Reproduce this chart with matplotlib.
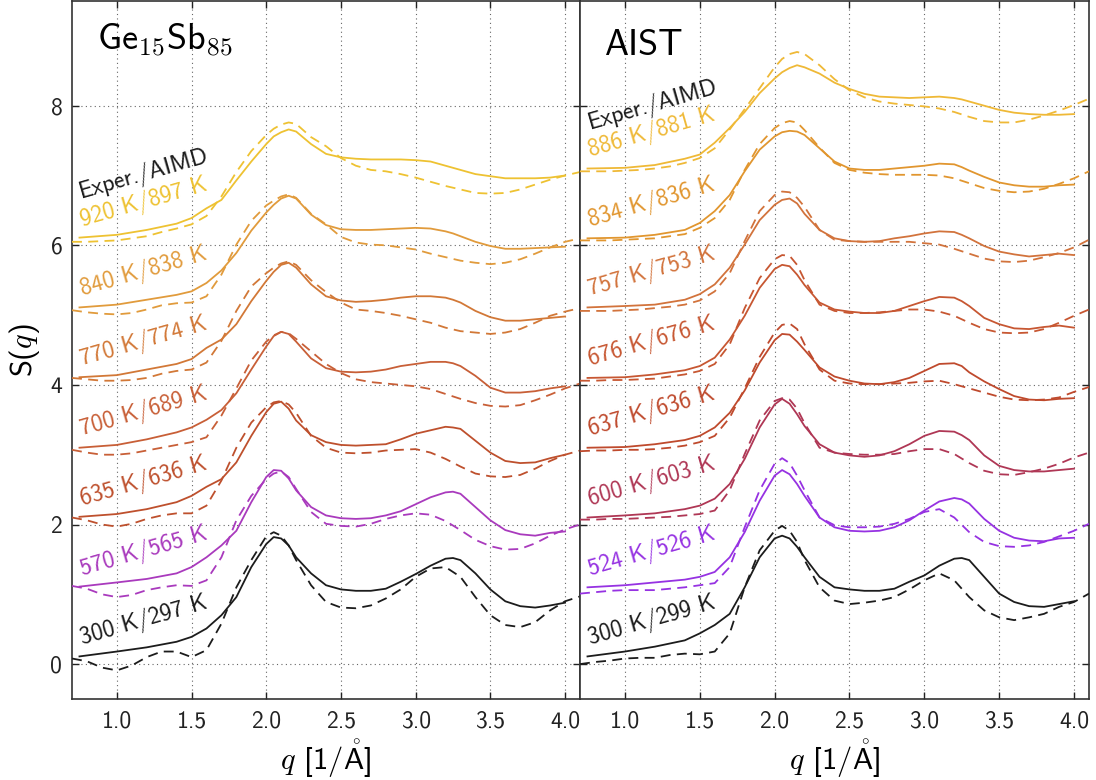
import matplotlib
matplotlib.use("Agg")
import matplotlib.pyplot as plt
from matplotlib.ticker import FormatStrFormatter

plt.rcParams["font.family"] = ["cmss10", "DejaVu Sans"]
plt.rcParams["mathtext.fontset"] = "cm"
plt.rcParams["axes.unicode_minus"] = False
plt.rcParams["axes.formatter.use_mathtext"] = False

# ---- momentum transfer grids [1/Angstrom] ----
q_exp = [0.75, 1.0, 1.2, 1.4, 1.5, 1.6, 1.7, 1.8, 1.9, 2.0, 2.05, 2.1, 2.15, 2.2,
         2.3, 2.4, 2.5, 2.6, 2.7, 2.8, 2.9, 3.0, 3.1, 3.2, 3.25, 3.3, 3.4, 3.5,
         3.6, 3.7, 3.8, 3.9, 4.0]
q_aimd = [0.7, 0.8, 0.9, 1.0, 1.1, 1.2, 1.3, 1.4, 1.5, 1.6, 1.7, 1.8, 1.9, 2.0,
          2.05, 2.1, 2.15, 2.2, 2.3, 2.4, 2.5, 2.6, 2.7, 2.8, 2.9, 3.0, 3.1, 3.2,
          3.3, 3.4, 3.5, 3.6, 3.7, 3.8, 3.9, 4.0, 4.1]

# ---- Ge15Sb85: experimental S(q) ----
gesb_exp_300 = [0.11, 0.18, 0.24, 0.32, 0.39, 0.51, 0.70, 0.96, 1.39, 1.72, 1.82, 1.80, 1.70, 1.53, 1.30, 1.13, 1.07, 1.05, 1.05, 1.08, 1.18, 1.29, 1.41, 1.51, 1.52, 1.49, 1.30, 1.07, 0.90, 0.83, 0.81, 0.84, 0.88]
gesb_exp_570 = [0.11, 0.17, 0.22, 0.30, 0.39, 0.53, 0.70, 0.91, 1.32, 1.68, 1.78, 1.77, 1.66, 1.49, 1.25, 1.13, 1.09, 1.08, 1.09, 1.13, 1.19, 1.29, 1.39, 1.46, 1.47, 1.44, 1.25, 1.06, 0.92, 0.86, 0.84, 0.88, 0.90]
gesb_exp_635 = [0.11, 0.15, 0.22, 0.32, 0.41, 0.54, 0.65, 0.89, 1.27, 1.61, 1.73, 1.76, 1.66, 1.49, 1.28, 1.18, 1.14, 1.13, 1.14, 1.15, 1.22, 1.30, 1.35, 1.40, 1.39, 1.37, 1.20, 1.03, 0.91, 0.88, 0.89, 0.95, 1.00]
gesb_exp_700 = [0.10, 0.14, 0.22, 0.32, 0.39, 0.50, 0.64, 0.88, 1.22, 1.55, 1.70, 1.76, 1.73, 1.62, 1.38, 1.24, 1.19, 1.18, 1.19, 1.22, 1.27, 1.30, 1.33, 1.33, 1.31, 1.27, 1.13, 0.96, 0.89, 0.89, 0.91, 0.95, 0.98]
gesb_exp_770 = [0.11, 0.14, 0.22, 0.30, 0.37, 0.53, 0.65, 0.87, 1.20, 1.49, 1.62, 1.72, 1.75, 1.68, 1.44, 1.27, 1.21, 1.19, 1.20, 1.22, 1.25, 1.27, 1.27, 1.25, 1.22, 1.18, 1.06, 0.97, 0.92, 0.92, 0.94, 0.96, 0.98]
gesb_exp_840 = [0.11, 0.15, 0.22, 0.29, 0.34, 0.46, 0.64, 0.89, 1.21, 1.47, 1.58, 1.67, 1.71, 1.67, 1.44, 1.29, 1.23, 1.22, 1.22, 1.23, 1.24, 1.25, 1.24, 1.20, 1.17, 1.13, 1.05, 0.99, 0.95, 0.95, 0.96, 0.97, 0.98]
gesb_exp_920 = [0.11, 0.15, 0.22, 0.31, 0.39, 0.53, 0.65, 0.93, 1.20, 1.45, 1.56, 1.62, 1.66, 1.63, 1.45, 1.31, 1.26, 1.24, 1.23, 1.23, 1.23, 1.22, 1.20, 1.14, 1.11, 1.08, 1.02, 0.99, 0.96, 0.96, 0.96, 0.97, 1.00]

# ---- Ge15Sb85: AIMD S(q) ----
gesb_aimd_297 = [0.08, 0.04, -0.05, -0.09, -0.02, 0.10, 0.18, 0.18, 0.10, 0.20, 0.58, 1.10, 1.49, 1.83, 1.89, 1.84, 1.70, 1.49, 1.13, 0.89, 0.81, 0.80, 0.84, 0.94, 1.07, 1.25, 1.37, 1.39, 1.25, 0.96, 0.70, 0.56, 0.53, 0.60, 0.77, 0.90, 0.97]
gesb_aimd_565 = [0.12, 0.08, 0.00, -0.04, -0.01, 0.06, 0.10, 0.13, 0.12, 0.20, 0.53, 1.06, 1.41, 1.65, 1.73, 1.76, 1.68, 1.51, 1.18, 1.01, 0.98, 0.97, 1.01, 1.08, 1.13, 1.16, 1.14, 1.05, 0.92, 0.78, 0.69, 0.64, 0.65, 0.73, 0.84, 0.93, 1.00]
gesb_aimd_636 = [0.10, 0.06, 0.00, -0.03, 0.01, 0.08, 0.13, 0.16, 0.16, 0.27, 0.63, 1.10, 1.46, 1.68, 1.75, 1.77, 1.72, 1.60, 1.27, 1.10, 1.03, 1.02, 1.03, 1.06, 1.07, 1.08, 1.03, 0.94, 0.83, 0.73, 0.69, 0.68, 0.71, 0.80, 0.91, 1.00, 1.06]
gesb_aimd_689 = [0.07, 0.03, 0.00, 0.00, 0.02, 0.06, 0.10, 0.14, 0.18, 0.25, 0.56, 0.95, 1.35, 1.62, 1.71, 1.76, 1.74, 1.66, 1.48, 1.30, 1.17, 1.08, 1.04, 1.02, 1.00, 0.98, 0.94, 0.87, 0.80, 0.74, 0.70, 0.69, 0.71, 0.78, 0.86, 0.95, 1.02]
gesb_aimd_774 = [0.10, 0.08, 0.06, 0.06, 0.07, 0.10, 0.16, 0.20, 0.22, 0.32, 0.63, 1.06, 1.41, 1.60, 1.68, 1.74, 1.77, 1.72, 1.50, 1.33, 1.18, 1.08, 1.06, 1.03, 0.99, 0.94, 0.89, 0.82, 0.77, 0.75, 0.73, 0.75, 0.80, 0.89, 0.99, 1.05, 1.10]
gesb_aimd_838 = [0.07, 0.04, 0.02, 0.01, 0.03, 0.08, 0.14, 0.17, 0.18, 0.27, 0.58, 1.01, 1.35, 1.57, 1.64, 1.70, 1.73, 1.68, 1.45, 1.30, 1.12, 1.04, 1.01, 1.00, 0.97, 0.94, 0.88, 0.83, 0.78, 0.75, 0.73, 0.75, 0.80, 0.88, 0.97, 1.05, 1.10]
gesb_aimd_897 = [0.05, 0.05, 0.06, 0.07, 0.10, 0.13, 0.19, 0.24, 0.30, 0.42, 0.70, 1.05, 1.35, 1.58, 1.67, 1.73, 1.76, 1.74, 1.55, 1.42, 1.25, 1.14, 1.08, 1.06, 1.02, 0.97, 0.91, 0.85, 0.80, 0.75, 0.74, 0.75, 0.80, 0.87, 0.94, 1.00, 1.05]

# ---- AIST: experimental S(q) ----
aist_exp_300 = [0.11, 0.18, 0.25, 0.34, 0.44, 0.56, 0.72, 1.10, 1.53, 1.80, 1.84, 1.80, 1.68, 1.53, 1.25, 1.10, 1.07, 1.05, 1.05, 1.08, 1.18, 1.27, 1.41, 1.51, 1.52, 1.49, 1.25, 1.01, 0.89, 0.83, 0.82, 0.86, 0.90]
aist_exp_524 = [0.10, 0.13, 0.17, 0.21, 0.25, 0.32, 0.53, 0.89, 1.34, 1.70, 1.78, 1.72, 1.58, 1.41, 1.10, 0.96, 0.91, 0.90, 0.91, 0.96, 1.06, 1.20, 1.33, 1.38, 1.36, 1.30, 1.08, 0.91, 0.81, 0.77, 0.76, 0.80, 0.81]
aist_exp_600 = [0.10, 0.13, 0.16, 0.22, 0.27, 0.37, 0.58, 0.94, 1.39, 1.72, 1.80, 1.73, 1.58, 1.41, 1.15, 1.03, 0.99, 0.97, 0.99, 1.05, 1.15, 1.27, 1.34, 1.33, 1.28, 1.21, 0.99, 0.84, 0.78, 0.76, 0.76, 0.78, 0.80]
aist_exp_637 = [0.10, 0.11, 0.15, 0.21, 0.27, 0.39, 0.60, 0.92, 1.32, 1.64, 1.73, 1.72, 1.62, 1.50, 1.25, 1.12, 1.06, 1.02, 1.01, 1.04, 1.10, 1.20, 1.30, 1.31, 1.27, 1.18, 1.05, 0.94, 0.84, 0.79, 0.78, 0.80, 0.81]
aist_exp_676 = [0.10, 0.11, 0.15, 0.21, 0.27, 0.39, 0.65, 0.99, 1.39, 1.66, 1.72, 1.70, 1.58, 1.43, 1.18, 1.08, 1.05, 1.03, 1.03, 1.06, 1.13, 1.20, 1.26, 1.25, 1.20, 1.13, 0.96, 0.87, 0.81, 0.80, 0.83, 0.85, 0.82]
aist_exp_757 = [0.11, 0.13, 0.15, 0.22, 0.30, 0.44, 0.68, 1.01, 1.36, 1.58, 1.65, 1.67, 1.60, 1.45, 1.22, 1.10, 1.06, 1.05, 1.06, 1.10, 1.13, 1.17, 1.20, 1.19, 1.15, 1.10, 0.99, 0.91, 0.87, 0.84, 0.86, 0.88, 0.86]
aist_exp_834 = [0.10, 0.11, 0.15, 0.22, 0.32, 0.49, 0.72, 1.06, 1.37, 1.56, 1.62, 1.64, 1.63, 1.58, 1.39, 1.20, 1.10, 1.08, 1.08, 1.10, 1.12, 1.14, 1.17, 1.16, 1.12, 1.07, 0.98, 0.90, 0.86, 0.84, 0.84, 0.86, 0.87]
aist_exp_886 = [0.10, 0.11, 0.15, 0.24, 0.30, 0.47, 0.68, 0.91, 1.18, 1.39, 1.48, 1.54, 1.58, 1.55, 1.46, 1.33, 1.24, 1.17, 1.13, 1.12, 1.11, 1.12, 1.13, 1.11, 1.09, 1.06, 1.00, 0.94, 0.90, 0.88, 0.87, 0.87, 0.88]

# ---- AIST: AIMD S(q) ----
aist_aimd_299 = [0.00, 0.03, 0.05, 0.08, 0.09, 0.09, 0.13, 0.15, 0.14, 0.18, 0.44, 1.10, 1.63, 1.91, 1.98, 1.91, 1.75, 1.49, 1.10, 0.91, 0.86, 0.88, 0.91, 0.96, 1.07, 1.20, 1.30, 1.20, 0.96, 0.77, 0.67, 0.63, 0.67, 0.72, 0.82, 0.89, 1.01]
aist_aimd_526 = [0.01, 0.03, 0.05, 0.06, 0.06, 0.06, 0.08, 0.10, 0.13, 0.16, 0.39, 0.96, 1.49, 1.87, 1.95, 1.88, 1.70, 1.49, 1.10, 0.99, 0.96, 0.96, 0.97, 1.01, 1.08, 1.18, 1.22, 1.10, 0.89, 0.75, 0.69, 0.68, 0.70, 0.75, 0.83, 0.91, 1.01]
aist_aimd_603 = [0.07, 0.07, 0.08, 0.08, 0.09, 0.10, 0.11, 0.13, 0.15, 0.20, 0.49, 1.01, 1.49, 1.77, 1.81, 1.79, 1.66, 1.45, 1.10, 1.03, 1.01, 1.00, 1.00, 1.01, 1.05, 1.08, 1.08, 1.01, 0.88, 0.77, 0.72, 0.71, 0.75, 0.80, 0.87, 0.96, 1.03]
aist_aimd_636 = [0.05, 0.06, 0.06, 0.07, 0.07, 0.08, 0.10, 0.13, 0.18, 0.27, 0.53, 0.95, 1.40, 1.75, 1.86, 1.88, 1.80, 1.58, 1.22, 1.06, 1.02, 1.01, 1.01, 1.02, 1.03, 1.05, 1.06, 1.01, 0.95, 0.89, 0.83, 0.79, 0.78, 0.79, 0.82, 0.90, 0.97]
aist_aimd_676 = [0.06, 0.06, 0.07, 0.07, 0.08, 0.09, 0.12, 0.15, 0.20, 0.30, 0.58, 1.10, 1.53, 1.80, 1.86, 1.85, 1.72, 1.50, 1.15, 1.06, 1.03, 1.03, 1.04, 1.06, 1.08, 1.08, 1.05, 0.99, 0.89, 0.80, 0.75, 0.74, 0.75, 0.80, 0.89, 0.99, 1.08]
aist_aimd_753 = [0.06, 0.06, 0.06, 0.07, 0.08, 0.10, 0.12, 0.15, 0.21, 0.34, 0.60, 1.06, 1.49, 1.72, 1.77, 1.76, 1.68, 1.55, 1.22, 1.08, 1.06, 1.05, 1.05, 1.05, 1.05, 1.03, 1.01, 0.95, 0.88, 0.81, 0.77, 0.76, 0.78, 0.83, 0.89, 0.97, 1.08]
aist_aimd_836 = [0.07, 0.07, 0.07, 0.08, 0.09, 0.10, 0.13, 0.16, 0.25, 0.39, 0.65, 1.08, 1.45, 1.68, 1.75, 1.78, 1.76, 1.65, 1.40, 1.18, 1.08, 1.04, 1.02, 1.01, 1.01, 1.01, 1.00, 0.96, 0.89, 0.82, 0.78, 0.76, 0.77, 0.81, 0.88, 0.96, 1.06]
aist_aimd_881 = [0.06, 0.06, 0.06, 0.07, 0.08, 0.10, 0.13, 0.18, 0.25, 0.39, 0.66, 0.95, 1.25, 1.55, 1.67, 1.74, 1.77, 1.74, 1.58, 1.38, 1.22, 1.12, 1.06, 1.03, 1.01, 0.99, 0.96, 0.91, 0.84, 0.78, 0.76, 0.76, 0.80, 0.86, 0.93, 1.01, 1.10]

# ---- curve labels (experiment / AIMD temperature) ----
gesb_labels = ["300 K/297 K", "570 K/565 K", "635 K/636 K", "700 K/689 K",
               "770 K/774 K", "840 K/838 K", "920 K/897 K"]
aist_labels = ["300 K/299 K", "524 K/526 K", "600 K/603 K", "637 K/636 K",
               "676 K/676 K", "757 K/753 K", "834 K/836 K", "886 K/881 K"]

gesb_colors = ["#1c1c1c", "#a93abd", "#be502d", "#c85f37", "#d27837", "#e19b3c", "#eec232"]
aist_colors = ["#1c1c1c", "#9632e2", "#af3755", "#bf4a2d", "#c75732", "#d2733c", "#e1962f", "#efb937"]

gesb_exp = [gesb_exp_300, gesb_exp_570, gesb_exp_635, gesb_exp_700,
            gesb_exp_770, gesb_exp_840, gesb_exp_920]
gesb_aimd = [gesb_aimd_297, gesb_aimd_565, gesb_aimd_636, gesb_aimd_689,
             gesb_aimd_774, gesb_aimd_838, gesb_aimd_897]
aist_exp = [aist_exp_300, aist_exp_524, aist_exp_600, aist_exp_637,
            aist_exp_676, aist_exp_757, aist_exp_834, aist_exp_886]
aist_aimd = [aist_aimd_299, aist_aimd_526, aist_aimd_603, aist_aimd_636,
             aist_aimd_676, aist_aimd_753, aist_aimd_836, aist_aimd_881]

SHIFT = 1.0  # vertical offset between successive temperatures

W, H = 1096, 780
fig = plt.figure(figsize=(W / 100, H / 100), dpi=100)
ax_l = fig.add_axes([72 / W, 81 / H, 508 / W, 698 / H])
ax_r = fig.add_axes([580 / W, 81 / H, 509 / W, 698 / H])


def draw_panel(ax, exp_sets, aimd_sets, labels, colors, title, title_y):
    for i, (s_exp, s_sim, lab, col) in enumerate(zip(exp_sets, aimd_sets, labels, colors)):
        off = i * SHIFT
        ax.plot(q_exp, [v + off for v in s_exp], color=col, lw=1.3, zorder=3)
        ax.plot(q_aimd, [v + off for v in s_sim], color=col, lw=1.3,
                linestyle=(0, (5.5, 3.5)), zorder=3)
        ax.text(0.77, off + 0.28, lab, color=col, fontsize=17, rotation=16,
                rotation_mode="anchor", ha="left", va="baseline", zorder=4)
    top = (len(labels) - 1) * SHIFT
    ax.text(0.765, top + 0.67, "Exper./AIMD", color="#1c1c1c", fontsize=17,
            rotation=16, rotation_mode="anchor", ha="left", va="baseline", zorder=4)
    ax.text(0.05, title_y, title, transform=ax.transAxes, fontsize=26,
            ha="left", va="baseline")

    ax.set_xlim(0.7, 4.1)
    ax.set_ylim(-0.5, 9.5)
    ax.set_xticks([1.0, 1.5, 2.0, 2.5, 3.0, 3.5, 4.0])
    ax.set_yticks([0, 2, 4, 6, 8])
    ax.xaxis.set_major_formatter(FormatStrFormatter("%.1f"))
    ax.grid(True, linestyle=(0, (1, 3)), color="#666666", lw=0.8, zorder=0)
    ax.set_axisbelow(True)
    ax.tick_params(direction="in", top=True, right=True, length=5, width=1,
                   labelsize=17, colors="#222222")
    ax.tick_params(axis="x", pad=8)
    ax.tick_params(axis="y", pad=7)
    for sp in ax.spines.values():
        sp.set_linewidth(1.2)
        sp.set_color("#333333")
    ax.set_xlabel(r"$q$ [1/$\mathsf{\mathring{A}}$]", fontsize=22, labelpad=4)


draw_panel(ax_l, gesb_exp, gesb_aimd, gesb_labels, gesb_colors,
           r"$\mathsf{Ge_{15}Sb_{85}}$", 0.93)
draw_panel(ax_r, aist_exp, aist_aimd, aist_labels, aist_colors, "AIST", 0.922)
ax_l.set_ylabel(r"S($q$)", fontsize=22, labelpad=6)
ax_r.tick_params(labelleft=False)

fig.savefig("out.png", dpi=100)
